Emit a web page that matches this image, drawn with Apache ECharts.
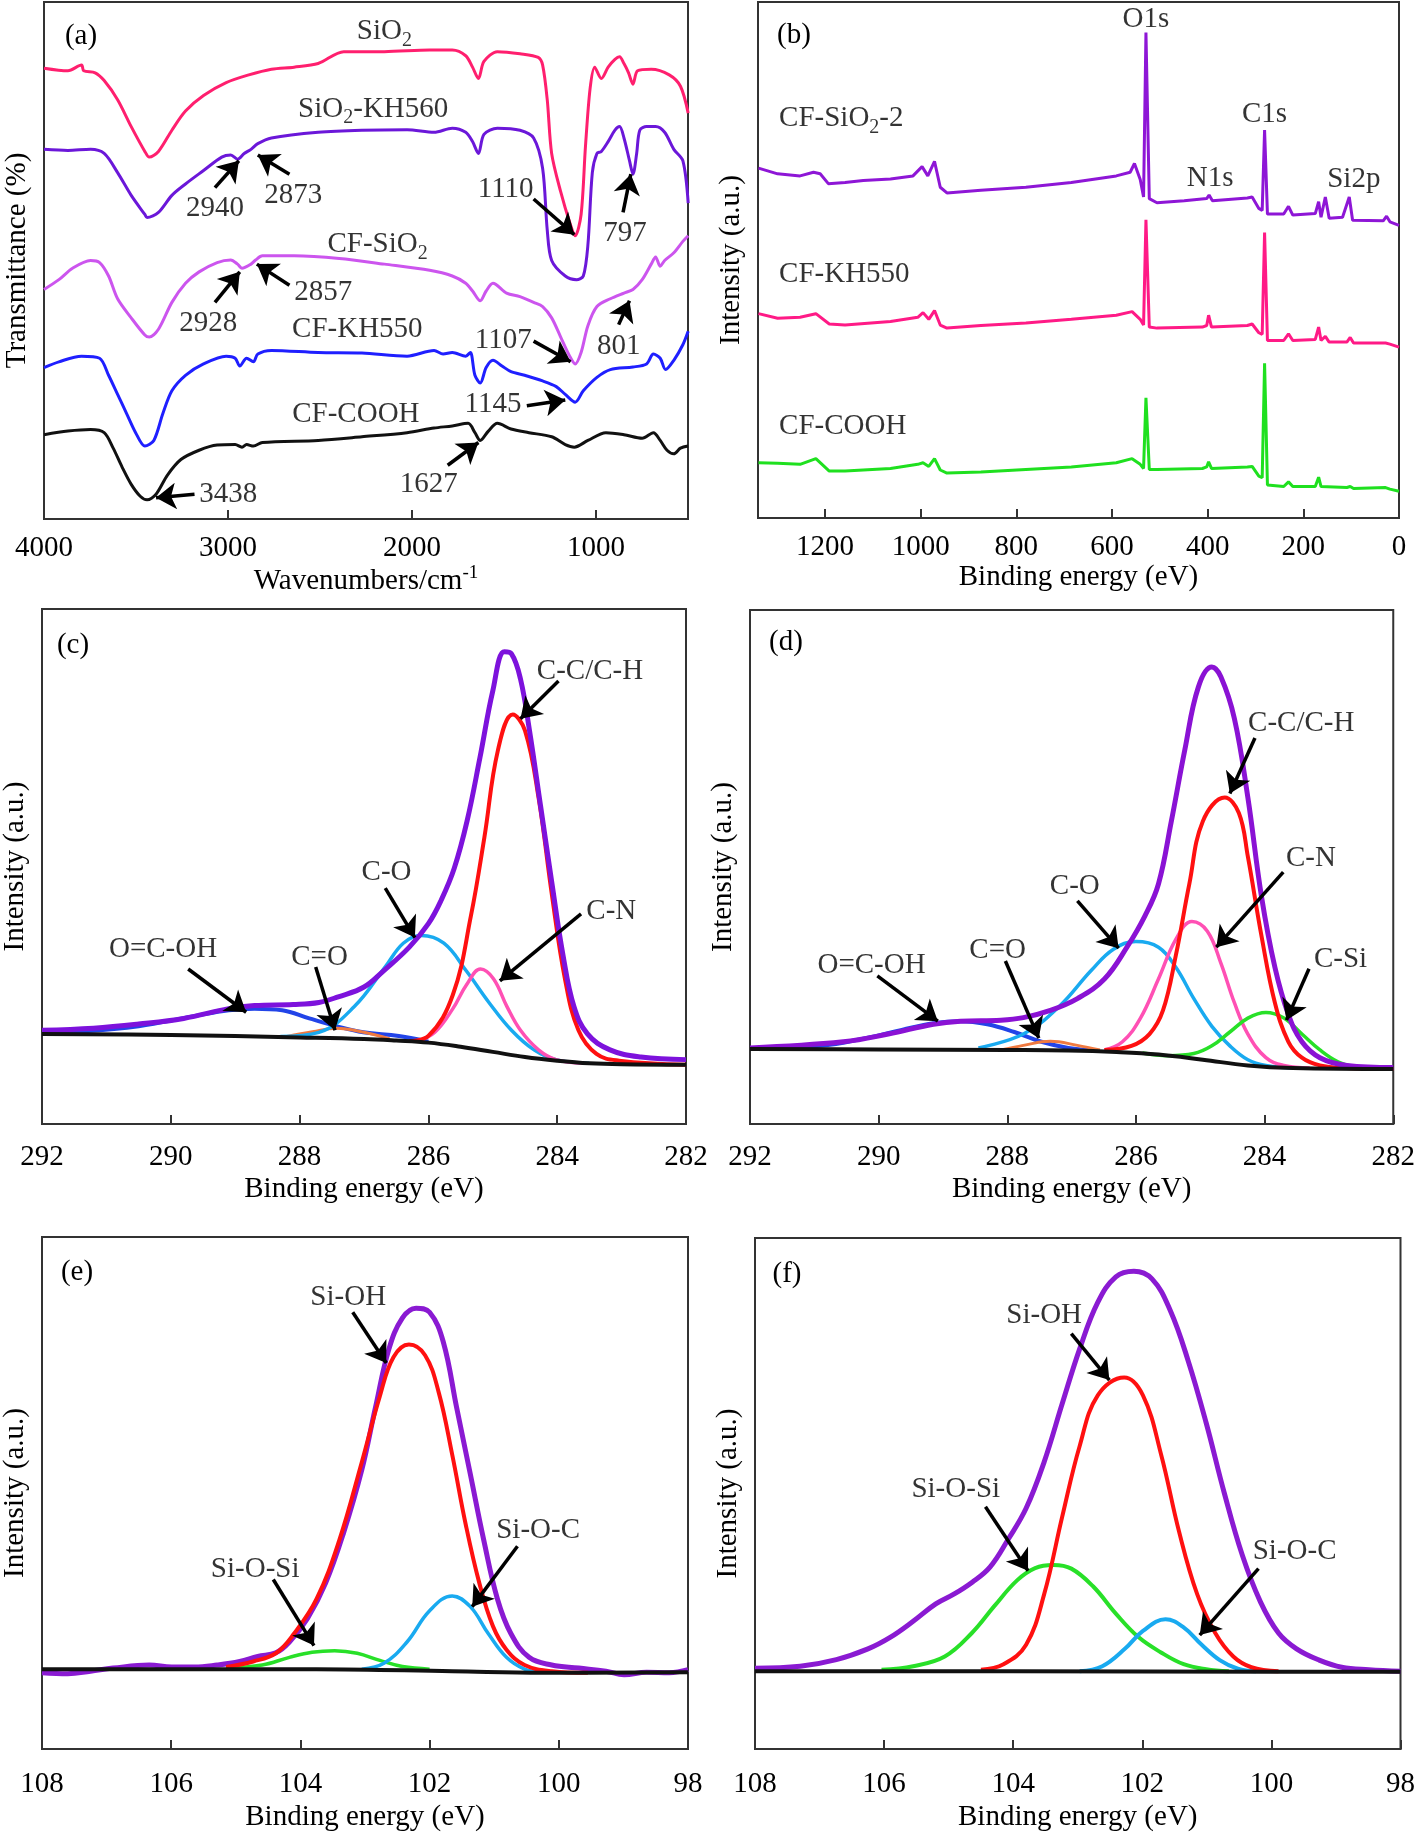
<!DOCTYPE html>
<html><head><meta charset="utf-8">
<script src="https://cdn.jsdelivr.net/npm/echarts@6/dist/echarts.min.js"></script>
<style>html,body{margin:0;padding:0;background:#fff}#c{width:1418px;height:1833px}</style>
</head><body><div id="c"></div>
<script>
// ---------------- DATA ----------------
// (a) FTIR, x = wavenumber (cm-1), y = transmittance (offset, a.u.)
const ftirSiO2 = [[4000,87.2],[3870,86.7],[3796,87.8],[3784,86.7],[3722,86.3],[3673,84.8],[3600,81.1],[3526,75.9],[3452,71.1],[3428,70.0],[3378,71.1],[3305,75.2],[3231,78.9],[3133,81.9],[3010,84.4],[2887,85.9],[2764,87.0],[2641,87.4],[2510,88.1],[2371,90.4],[2150,90.4],[1904,90.7],[1781,90.7],[1708,89.6],[1671,87.4],[1639,85.2],[1609,88.5],[1536,90.4],[1413,90.0],[1314,89.3],[1290,87.8],[1265,81.1],[1241,70.7],[1192,63.3],[1143,57.4],[1113,54.8],[1081,58.9],[1057,72.2],[1032,83.3],[1007,87.4],[971,85.2],[934,87.4],[897,88.9],[872,89.4],[848,88.1],[823,86.3],[799,84.1],[774,86.7],[700,87.0],[602,85.9],[541,83.7],[499,78.5]];
const ftirKH560 = [[4000,71.5],[3870,71.3],[3747,71.5],[3673,70.7],[3600,67.0],[3526,62.6],[3452,58.9],[3440,58.3],[3378,59.3],[3305,62.6],[3231,64.8],[3133,67.4],[3034,70.0],[2985,70.4],[2948,69.6],[2912,70.7],[2875,71.5],[2838,72.6],[2764,73.7],[2510,74.8],[2272,75.2],[2027,75.3],[1880,74.8],[1781,75.6],[1708,74.8],[1671,73.0],[1639,70.7],[1609,74.4],[1536,75.6],[1413,75.2],[1339,73.7],[1290,67.8],[1265,55.9],[1241,50.0],[1167,47.0],[1106,46.3],[1069,47.0],[1044,53.0],[1020,67.0],[995,70.7],[971,71.1],[934,73.0],[897,75.2],[872,75.9],[848,73.7],[818,69.3],[799,66.7],[779,70.7],[762,75.2],[725,75.9],[676,75.9],[627,74.8],[577,71.5],[528,69.3],[499,61.1]];
const ftirCFSiO2 = [[4000,44.4],[3919,46.3],[3845,48.5],[3747,50.0],[3698,49.6],[3649,47.0],[3600,42.6],[3526,38.9],[3452,35.6],[3428,35.2],[3378,36.7],[3305,41.9],[3231,45.6],[3157,47.8],[3059,49.6],[2985,50.1],[2948,49.3],[2924,48.5],[2875,49.3],[2850,50.1],[2813,50.9],[2641,50.9],[2395,50.4],[2150,49.3],[1904,48.1],[1781,47.0],[1708,45.6],[1671,44.1],[1629,42.2],[1597,44.1],[1560,45.6],[1486,43.7],[1413,43.0],[1339,41.9],[1290,41.1],[1241,38.9],[1192,35.2],[1143,31.5],[1113,30.0],[1081,32.2],[1044,37.4],[995,41.1],[922,42.6],[848,43.7],[799,44.4],[749,46.3],[700,49.3],[676,50.7],[651,48.9],[627,50.0],[577,51.5],[528,53.7],[499,54.8]];
const ftirKH550 = [[4000,29.3],[3919,30.4],[3796,31.5],[3698,31.1],[3649,27.8],[3600,24.1],[3551,20.4],[3502,16.7],[3452,14.1],[3403,15.2],[3354,20.4],[3305,24.8],[3231,27.8],[3133,30.0],[3010,31.5],[2961,31.1],[2936,29.6],[2899,31.1],[2862,30.4],[2838,31.9],[2764,32.6],[2510,32.2],[2272,32.1],[2027,31.5],[1880,32.6],[1831,31.9],[1781,32.2],[1708,31.5],[1683,32.2],[1658,27.8],[1629,26.3],[1597,29.3],[1560,30.7],[1511,29.6],[1462,28.5],[1388,27.8],[1290,26.7],[1216,25.6],[1167,24.1],[1113,22.6],[1069,24.8],[995,27.4],[922,28.9],[799,29.4],[725,30.0],[688,31.9],[651,31.1],[622,28.9],[577,30.7],[528,33.7],[499,36.3]];
const ftirCOOH = [[4000,16.3],[3870,17.0],[3747,17.3],[3673,16.7],[3624,13.7],[3575,10.0],[3526,6.7],[3477,4.4],[3440,3.7],[3391,4.8],[3329,8.5],[3256,11.5],[3157,13.3],[3059,14.3],[2961,14.4],[2924,13.9],[2899,14.4],[2862,14.1],[2813,14.8],[2510,15.2],[2272,15.9],[2027,16.7],[1880,17.6],[1781,18.0],[1695,18.5],[1658,16.7],[1629,15.2],[1585,17.0],[1536,18.5],[1462,17.4],[1364,16.7],[1241,15.9],[1167,14.4],[1118,13.9],[1044,15.2],[946,16.7],[848,16.3],[749,15.6],[688,16.7],[651,15.2],[614,13.3],[577,12.6],[541,13.7],[499,14.1]];

// (b) XPS survey, x = binding energy (eV)
const surveySiO2 = [[1339,67.8],[1299,66.7],[1252,66.3],[1224,67.0],[1210,66.7],[1193,64.8],[1158,65.0],[1120,65.4],[1063,65.7],[1016,66.3],[997,68.1],[985,66.3],[971,69.1],[959,64.1],[945,63.0],[874,63.5],[780,64.1],[685,65.0],[591,66.3],[562,67.0],[553,68.7],[541,65.6],[534,62.2],[529,94.1],[527.5,94.1],[522,61.9],[506,61.1],[449,61.5],[402,61.9],[397,62.6],[390,61.5],[317,62.0],[307,62.2],[293,60.0],[286,59.6],[281,75.2],[275,58.9],[241,58.9],[231,60.4],[222,58.7],[175,59.0],[168,61.3],[163,58.3],[154,62.2],[146,58.1],[118,58.3],[104,62.2],[97,57.7],[33,57.6],[26,58.5],[19,57.4],[0,56.7]];
const surveyKH550 = [[1339,39.6],[1299,38.7],[1252,38.9],[1219,39.6],[1191,37.6],[1158,37.4],[1063,38.1],[1006,38.9],[995,39.8],[983,38.5],[971,40.2],[959,37.4],[945,36.8],[874,37.3],[780,37.8],[685,38.5],[591,39.3],[558,40.0],[541,38.5],[534,37.4],[529,57.8],[527.5,57.8],[522,37.0],[506,36.8],[411,37.0],[402,37.3],[398,39.3],[392,37.0],[317,37.3],[307,37.6],[293,35.9],[286,35.6],[281,55.3],[275,34.4],[241,34.4],[231,35.7],[222,34.4],[175,34.6],[168,37.0],[163,34.4],[154,35.2],[146,34.1],[109,34.1],[102,35.0],[95,33.9],[28,33.9],[24,34.2],[19,33.7],[0,33.1]];
const surveyCOOH = [[1339,10.7],[1299,10.6],[1252,10.4],[1219,11.5],[1191,9.1],[1158,9.1],[1063,9.6],[1006,10.4],[995,10.7],[983,10.0],[971,11.5],[959,9.3],[945,8.7],[874,8.9],[780,9.4],[685,9.9],[591,10.7],[558,11.5],[541,10.4],[534,9.6],[529,23.3],[527.5,23.3],[522,9.4],[506,9.4],[411,9.6],[402,9.9],[398,10.9],[392,9.6],[317,9.9],[307,10.0],[293,8.1],[286,7.8],[281,30.0],[275,6.4],[241,6.1],[231,7.0],[222,6.1],[175,6.1],[168,7.9],[163,6.1],[109,5.9],[102,6.1],[95,5.7],[28,5.9],[24,6.1],[19,5.6],[0,5.2]];

// (c) C1s CF-KH550
const c1sC_base = [[292,17.5],[290,17.3],[288,16.8],[287,16.5],[286.5,16.2],[286,15.8],[285.5,15.0],[285,14.0],[284.5,13.0],[284,12.3],[283.5,11.8],[283,11.6],[282,11.5]];
const c1sC_env = [[292,18.2],[291.2,18.6],[290.5,19.4],[289.8,20.5],[289.1,22.4],[288.7,23.0],[288.1,23.2],[287.7,23.6],[287.4,24.7],[287.0,26.6],[286.7,29.7],[286.3,34.3],[286.0,38.9],[285.8,43.5],[285.6,49.6],[285.4,58.8],[285.2,71.1],[285.0,84.1],[284.82,91.7],[284.71,91.3],[284.57,86.4],[284.43,76.4],[284.26,61.9],[284.08,46.6],[283.91,32.8],[283.74,22.8],[283.53,17.5],[283.18,14.4],[282.7,13.0],[282,12.5]];
const c1sC_CC = [[286.3,16.1],[286.0,17.1],[285.62,25.1],[285.34,40.4],[285.13,55.7],[284.92,72.6],[284.69,79.5],[284.5,76.4],[284.29,63.4],[284.08,44.3],[283.88,28.2],[283.67,18.2],[283.39,13.6],[283.04,12.3],[282,11.5]];
const c1sC_CO = [[288.3,17.0],[287.7,17.8],[287.15,22.8],[286.67,30.5],[286.39,35.1],[286.11,36.6],[285.76,35.1],[285.41,29.7],[285.06,23.6],[284.71,18.2],[284.36,14.4],[284.02,12.5],[283.5,11.8]];
const c1sC_COOH = [[292,17.6],[291.55,17.8],[290.5,19.0],[289.66,20.9],[289.1,22.1],[288.7,22.4],[288.27,22.1],[287.85,20.5],[287.43,19.0],[287.01,17.8],[286.46,17.1],[286,16.0]];
const c1sC_CdO = [[288.2,17.0],[287.8,17.9],[287.43,18.6],[287.0,17.8],[286.6,16.5]];
const c1sC_CN = [[286.18,16.0],[285.9,17.8],[285.62,22.4],[285.41,27.0],[285.19,30.1],[284.99,28.2],[284.78,22.8],[284.57,18.2],[284.29,14.4],[284.02,12.5],[283.6,11.8]];

// (d) C1s CF-SiO2
const c1sD_base = [[292,14.6],[290,14.5],[288,14.4],[287.05,14.3],[286.3,14.0],[285.65,13.5],[284.96,12.5],[284.26,11.4],[283.56,10.9],[282,10.7]];
const c1sD_env = [[292,14.8],[290.55,16.0],[289.85,17.5],[289.15,19.4],[288.73,20.0],[288.1,20.2],[287.75,20.7],[287.33,22.1],[286.91,24.4],[286.49,28.2],[286.14,34.4],[285.86,40.5],[285.65,46.7],[285.45,58.9],[285.24,72.8],[285.03,85.0],[284.82,88.9],[284.68,87.0],[284.47,78.9],[284.26,63.5],[284.05,44.4],[283.84,30.5],[283.63,21.3],[283.42,16.0],[283.14,12.9],[282.72,11.4],[282,11.0]];
const c1sD_CC = [[286.49,14.4],[286.07,15.2],[285.79,17.5],[285.58,22.1],[285.38,32.8],[285.17,46.7],[284.96,58.9],[284.62,63.5],[284.4,60.5],[284.26,52.0],[284.05,36.7],[283.84,23.6],[283.63,16.0],[283.42,12.9],[283.14,11.4],[282.72,10.9],[282,10.7]];
const c1sD_CN = [[286.49,14.4],[286.21,16.0],[285.93,20.6],[285.65,28.2],[285.38,35.9],[285.13,39.4],[284.89,37.5],[284.68,31.3],[284.47,23.6],[284.26,17.5],[283.98,12.9],[283.7,11.4],[283.3,10.9]];
const c1sD_CO = [[288.45,14.8],[287.75,17.5],[287.19,22.9],[286.7,29.8],[286.35,34.0],[286.0,35.5],[285.65,34.4],[285.38,30.5],[285.1,24.4],[284.82,19.0],[284.54,15.2],[284.26,12.5],[283.98,11.4],[283.5,10.9]];
const c1sD_COOH = [[292,14.7],[290.9,15.2],[290.2,16.7],[289.64,18.3],[289.15,19.6],[288.73,20.0],[288.31,19.4],[287.89,17.9],[287.47,16.0],[287.05,14.8],[286.63,14.3]];
const c1sD_CdO = [[288.1,14.4],[287.75,15.3],[287.33,16.1],[286.91,15.3],[286.56,14.4]];
const c1sD_CSi = [[285.9,13.8],[285.5,13.3],[285.1,13.7],[284.82,15.2],[284.54,17.9],[284.26,20.6],[283.98,21.7],[283.7,20.6],[283.42,17.5],[283.14,14.4],[282.86,12.1],[282.58,11.1],[282.2,10.8]];

// (e) Si2p CF-KH550
const si2pE_base = [[108,15.6],[106,15.6],[103.75,15.6],[101.65,15.2],[100.25,14.9],[98,15.0]];
const si2pE_env = [[108,14.9],[107.6,14.7],[107.25,15.2],[106.9,15.8],[106.34,16.4],[105.99,16.0],[105.64,16.0],[105.29,16.4],[104.94,17.1],[104.66,18.1],[104.38,18.8],[104.17,20.9],[103.89,25.5],[103.61,32.4],[103.33,42.3],[103.05,54.5],[102.84,66.6],[102.63,78.1],[102.42,84.2],[102.21,86.1],[102.0,85.3],[101.79,79.6],[101.58,66.6],[101.37,53.7],[101.16,40.7],[100.95,29.3],[100.74,22.5],[100.46,17.9],[100.11,16.4],[99.69,15.8],[99.27,15.2],[98.99,14.5],[98.64,15.0],[98.29,14.9],[98,15.5]];
const si2pE_SiOH = [[105.15,16.0],[104.73,17.1],[104.38,18.7],[104.1,22.5],[103.75,29.3],[103.4,40.7],[103.05,56.0],[102.77,68.9],[102.56,76.5],[102.32,79.0],[102.07,76.9],[101.86,69.7],[101.65,57.5],[101.44,43.8],[101.23,32.4],[101.02,24.0],[100.81,19.4],[100.53,16.4],[100.11,15.2],[99.55,14.9]];
const si2pE_SiOSi = [[105.15,15.8],[104.59,16.4],[104.17,17.9],[103.82,18.9],[103.47,19.2],[103.12,18.7],[102.77,17.3],[102.42,16.1],[102.0,15.6]];
const si2pE_SiOC = [[103.05,15.6],[102.7,16.8],[102.35,20.9],[102.0,27.0],[101.65,29.9],[101.37,27.8],[101.09,22.5],[100.81,17.9],[100.53,15.6],[100.25,15.0]];

// (f) Si2p CF-SiO2
const si2pF_base = [[108,15.2],[104,15.2],[100,15.1],[98,15.1]];
const si2pF_env = [[108,15.8],[107.3,16.2],[106.74,17.5],[106.25,19.6],[105.9,21.9],[105.55,25.0],[105.2,28.4],[104.92,30.3],[104.64,32.6],[104.36,35.6],[104.08,41.0],[103.8,47.1],[103.52,56.2],[103.24,67.6],[102.97,78.3],[102.69,87.4],[102.41,92.4],[102.13,93.5],[101.85,92.0],[101.57,85.9],[101.29,76.0],[101.01,63.8],[100.73,50.1],[100.45,37.9],[100.17,28.8],[99.89,22.7],[99.61,19.6],[99.26,17.4],[98.91,16.0],[98.49,15.5],[98,15.2]];
const si2pF_SiOH = [[104.5,15.5],[104.15,16.6],[103.8,20.4],[103.52,30.3],[103.24,45.5],[102.97,59.3],[102.69,69.2],[102.28,72.7],[101.99,69.2],[101.71,57.7],[101.43,42.5],[101.15,30.3],[100.87,22.7],[100.59,18.1],[100.31,16.0],[99.89,15.2]];
const si2pF_SiOSi = [[106.04,15.5],[105.55,16.2],[105.06,18.1],[104.64,22.7],[104.29,28.0],[103.94,33.0],[103.66,35.4],[103.38,36.0],[103.1,35.3],[102.76,31.8],[102.41,26.5],[102.06,21.9],[101.71,18.9],[101.36,16.6],[101.01,15.6],[100.66,15.2]];
const si2pF_SiOC = [[102.97,15.2],[102.62,16.2],[102.27,19.6],[101.99,23.1],[101.64,25.4],[101.36,23.8],[101.08,20.4],[100.8,17.4],[100.52,15.7],[100.24,15.2]];

// tick labels
const ticksA = [4000, 3000, 2000, 1000];
const ticksB = [1200, 1000, 800, 600, 400, 200, 0];

// annotations: [text, x, y, align]
const textsA = [["SiO{sub|2}",2150,94.3],["SiO{sub|2}-KH560",2211,79.3],["2940",3071,60.0],["2873",2646,62.6],["1110",1491,63.7],["797",843,55.2],["CF-SiO{sub|2}",2187,53.1],["2928",3108,37.8],["2857",2482,43.9],["801",877,33.3],["CF-KH550",2297,36.7],["1107",1504,34.6],["1145",1560,22.2],["CF-COOH",2305,20.2],["1627",1909,6.7],["3438",2998,4.8]];
const arrowsA = [[[3071,64.1],[2941,69.3]],[[2666,66.7],[2838,70.4]],[[1339,61.9],[1118,55.0]],[[853,59.3],[811,66.7]],[[3071,41.9],[2936,47.8]],[[2666,45.2],[2843,49.3]],[[877,37.6],[818,42.2]],[[1339,34.4],[1138,30.4]],[[1376,21.9],[1167,23.0]],[[1806,10.4],[1639,14.8]],[[3182,4.8],[3391,4.1]]];
const textsB = [["O1s",529,96.7],["C1s",281,78.3],["N1s",395,65.9],["Si2p",94.5,65.6],["CF-SiO{sub|2}-2",1297,77.4,"left"],["CF-KH550",1297,47.2,"left"],["CF-COOH",1297,17.8,"left"]];
const textsC = [["C-C/C-H",283.49,87.9],["C-N",283.16,41.2],["C-O",286.65,48.9],["C=O",287.69,32.4],["O=C-OH",290.12,33.9]];
const arrowsC = [[[283.98,86.0],[284.57,78.7]],[[283.63,40.8],[284.89,27.8]],[[286.67,45.8],[286.21,36.2]],[[287.75,30.5],[287.45,18.2]],[[289.73,30.1],[288.83,21.7]]];
const textsD = [["C-C/C-H",283.43,78.0],["C-N",283.28,51.6],["C-O",286.95,46.3],["C=O",288.15,33.8],["O=C-OH",290.11,30.9],["C-Si",282.82,32.1]];
const arrowsD = [[[284.15,75.1],[284.54,64.3]],[[283.71,49.0],[284.75,34.4]],[[286.91,43.4],[286.27,34.2]],[[288.03,31.7],[287.51,16.7]],[[290.02,28.8],[289.08,20.0]],[[283.31,30.2],[283.66,20.2]]];
const textsE = [["Si-OH",103.26,88.3],["Si-O-C",100.32,42.6],["Si-O-Si",104.7,35.0]];
const arrowsE = [[[103.19,85.3],[102.67,75.4]],[[100.64,39.6],[101.34,27.8]],[[104.42,33.1],[103.79,20.2]]];
const textsF = [["Si-OH",103.52,84.8],["Si-O-Si",104.89,50.9],["Si-O-C",99.64,38.7]];
const arrowsF = [[[103.1,81.3],[102.51,72.2]],[[104.43,47.4],[103.77,34.9]],[[100.2,35.3],[101.11,22.3]]];
const panelLabels = ["(a)","(b)","(c)","(d)","(e)","(f)"];

// ---------------- CHART ----------------
const FONT = '"Liberation Serif","Times New Roman",serif';
const FS = 29;
const RICH = {
  sub: {fontSize: 20, fontFamily: FONT, color: '#000', padding: [18, 0, 0, 0]},
  sup: {fontSize: 19, fontFamily: FONT, color: '#000', padding: [0, 0, 16, 0]}
};
const grids = [
  {left: 44, top: 2, width: 644, height: 517},
  {left: 758, top: 2, width: 641, height: 516},
  {left: 38, top: 609, width: 648, height: 515},
  {left: 750, top: 610, width: 647, height: 514},
  {left: 42, top: 1237, width: 646, height: 513},
  {left: 755, top: 1238, width: 647, height: 513}
].map(g => Object.assign(g, {show: true, borderColor: '#333', borderWidth: 2, containLabel: false}));

const AX = '#333';
function xAxis(i, min, max, name, gap, margin, opts) {
  return Object.assign({
    type: 'value', gridIndex: i, inverse: true, min, max,
    name, nameLocation: 'middle', nameGap: gap,
    nameTextStyle: {fontSize: FS, fontFamily: FONT, color: '#000', rich: RICH},
    axisLine: {show: true, lineStyle: {color: AX, width: 2}},
    axisTick: {show: true, inside: true, length: 9, lineStyle: {color: AX, width: 2}},
    axisLabel: {show: true, margin: margin, fontSize: FS, fontFamily: FONT, color: '#000', formatter: v => String(v)},
    splitLine: {show: false}
  }, opts || {});
}
function yAxis(i, name) {
  return {
    type: 'value', gridIndex: i, min: 0, max: 100,
    name, nameLocation: 'middle', nameGap: 12,
    nameTextStyle: {fontSize: FS, fontFamily: FONT, color: '#000'},
    axisLine: {show: true, lineStyle: {color: AX, width: 2}},
    axisTick: {show: false}, axisLabel: {show: false}, splitLine: {show: false}
  };
}
const xAxes = [
  xAxis(0, 500, 4000, 'Wavenumbers/cm{sup|-1}', 38, 15, {
    axisTick: {show: true, inside: true, length: 9, lineStyle: {color: AX, width: 2}, customValues: ticksA},
    axisLabel: {show: true, margin: 15, fontSize: FS, fontFamily: FONT, color: '#000', customValues: ticksA, formatter: v => String(v)}
  }),
  xAxis(1, 0, 1340, 'Binding energy (eV)', 38, 15, {
    axisTick: {show: true, inside: true, length: 9, lineStyle: {color: AX, width: 2}, customValues: ticksB},
    axisLabel: {show: true, margin: 15, fontSize: FS, fontFamily: FONT, color: '#000', customValues: ticksB, formatter: v => String(v)}
  }),
  xAxis(2, 282, 292, 'Binding energy (eV)', 51, 19, {interval: 2}),
  xAxis(3, 282, 292, 'Binding energy (eV)', 51, 19, {interval: 2}),
  xAxis(4, 98, 108, 'Binding energy (eV)', 54, 21, {interval: 2}),
  xAxis(5, 98, 108, 'Binding energy (eV)', 54, 21, {interval: 2})
];
const yAxes = [yAxis(0, 'Transmittance (%)'), yAxis(1, 'Intensity (a.u.)'), yAxis(2, 'Intensity (a.u.)'),
  yAxis(3, 'Intensity (a.u.)'), yAxis(4, 'Intensity (a.u.)'), yAxis(5, 'Intensity (a.u.)')];

const series = [];
function line(i, data, color, width, smooth) {
  series.push({type: 'line', xAxisIndex: i, yAxisIndex: i, data, showSymbol: false, symbol: 'none',
    smooth: smooth, lineStyle: {color, width}, silent: true, animation: false, z: 3});
}
function texts(i, items) {
  series.push({type: 'scatter', xAxisIndex: i, yAxisIndex: i, symbolSize: 1, silent: true, z: 10,
    itemStyle: {color: 'transparent'},
    label: {show: true, color: '#000', fontSize: FS, fontFamily: FONT, rich: RICH},
    data: items.map(t => ({value: [t[1], t[2]], label: {show: true, formatter: t[0],
      position: t[3] === 'left' ? 'right' : 'inside', distance: 0, color: '#000', fontSize: FS, fontFamily: FONT, rich: RICH}}))
  });
}
function arrows(i, items) {
  series.push({type: 'lines', coordinateSystem: 'cartesian2d', xAxisIndex: i, yAxisIndex: i, silent: true, z: 11,
    symbol: ['none', 'arrow'], symbolSize: 20,
    lineStyle: {color: '#000', width: 3.5, opacity: 1, curveness: 0},
    data: items.map(a => ({coords: a}))});
}
// (a)
line(0, ftirSiO2, '#ff1f6e', 3, 0.3);
line(0, ftirKH560, '#6b17d9', 3, 0.3);
line(0, ftirCFSiO2, '#cc55ee', 3, 0.3);
line(0, ftirKH550, '#1f1fff', 3, 0.3);
line(0, ftirCOOH, '#111111', 3, 0.3);
texts(0, textsA); arrows(0, arrowsA);
// (b)
line(1, surveySiO2, '#8e16d6', 3, false);
line(1, surveyKH550, '#ff1a86', 3, false);
line(1, surveyCOOH, '#1fe01f', 3, false);
texts(1, textsB);
// (c)
line(2, c1sC_COOH, '#2244e8', 4, 0.4);
line(2, c1sC_CdO, '#f07a40', 3, 0.4);
line(2, c1sC_CO, '#19aaf0', 3.5, 0.4);
line(2, c1sC_CN, '#ff50b4', 3.5, 0.4);
line(2, c1sC_CC, '#ff1010', 4, 0.4);
line(2, c1sC_env, '#7d12dc', 5, 0.4);
line(2, c1sC_base, '#111111', 4, 0.4);
texts(2, textsC); arrows(2, arrowsC);
// (d)
line(3, c1sD_COOH, '#2244e8', 4, 0.4);
line(3, c1sD_CdO, '#f07a40', 3, 0.4);
line(3, c1sD_CO, '#19aaf0', 3.5, 0.4);
line(3, c1sD_CN, '#ff50b4', 3.5, 0.4);
line(3, c1sD_CSi, '#28e028', 3.5, 0.4);
line(3, c1sD_CC, '#ff1010', 4, 0.4);
line(3, c1sD_env, '#8a12d4', 5, 0.4);
line(3, c1sD_base, '#111111', 4, 0.4);
texts(3, textsD); arrows(3, arrowsD);
// (e)
line(4, si2pE_SiOSi, '#28e028', 3.5, 0.4);
line(4, si2pE_SiOC, '#19aaf0', 3.5, 0.4);
line(4, si2pE_env, '#8a1ad2', 5, 0.4);
line(4, si2pE_SiOH, '#ff1010', 4, 0.4);
line(4, si2pE_base, '#111111', 4, 0.4);
texts(4, textsE); arrows(4, arrowsE);
// (f)
line(5, si2pF_SiOSi, '#28e028', 4, 0.4);
line(5, si2pF_SiOC, '#19aaf0', 4, 0.4);
line(5, si2pF_SiOH, '#ff1010', 4, 0.4);
line(5, si2pF_env, '#8a1ad2', 5, 0.4);
line(5, si2pF_base, '#111111', 4, 0.4);
texts(5, textsF); arrows(5, arrowsF);

const labelPos = [[81, 36], [794, 35], [73, 645], [786, 642], [77, 1272], [787, 1274]];
const graphic = panelLabels.map((t, k) => ({
  type: 'text', x: labelPos[k][0], y: labelPos[k][1], silent: true, z: 20,
  style: {text: t, fill: '#000', font: FS + 'px ' + FONT, align: 'center', verticalAlign: 'middle',
    textAlign: 'center', textVerticalAlign: 'middle'}
}));

const chart = echarts.init(document.getElementById('c'), null, {renderer: 'canvas'});
chart.setOption({
  animation: false,
  backgroundColor: '#fff',
  textStyle: {fontFamily: FONT},
  grid: grids, xAxis: xAxes, yAxis: yAxes, series, graphic
});
</script></body></html>
